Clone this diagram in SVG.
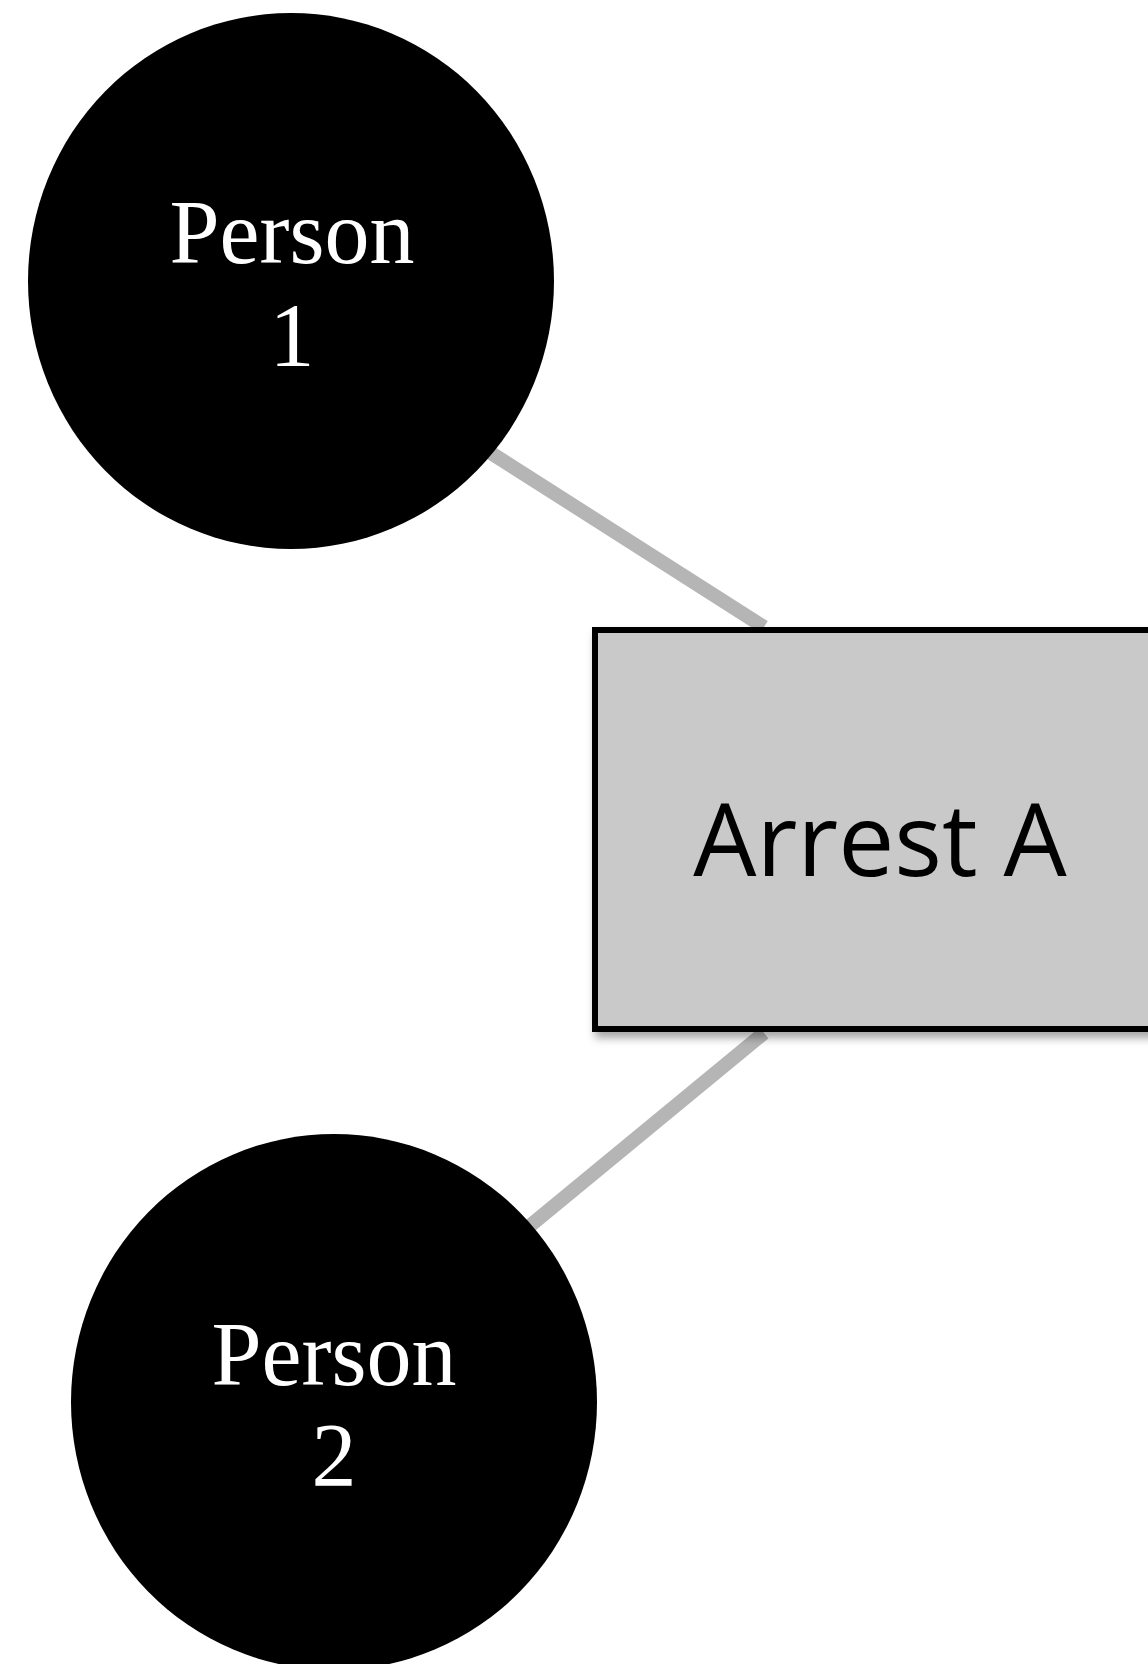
<svg xmlns="http://www.w3.org/2000/svg" width="1148" height="1664" viewBox="0 0 1148 1664">
<style>
.edge{stroke:#b5b5b5;stroke-width:14;fill:none}
.person{fill:#000}
.ptext{font-family:"Liberation Serif","Times New Roman",serif;font-size:90px;fill:#fff;text-anchor:middle}
.event{fill:#c9c9c9;stroke:#000;stroke-width:6}
.etext{font-family:"Open Sans","Liberation Sans",sans-serif;font-size:100px;fill:#000;text-anchor:middle}
</style>
<defs>
<filter id="sh" x="-10%" y="-10%" width="130%" height="130%">
<feDropShadow dx="3" dy="6" stdDeviation="4" flood-color="#000" flood-opacity="0.35"/>
</filter>
</defs>
<rect width="1148" height="1664" fill="#fff"/>
<g id="connectors">
<line class="edge" x1="480" y1="446" x2="764" y2="627"/>
<line class="edge" x1="764" y1="1033" x2="520" y2="1234"/>
</g>
<g id="person1">
<ellipse class="person" cx="291" cy="281" rx="263" ry="268"/>
<text class="ptext" x="292" y="263">Person</text>
<text class="ptext" x="292" y="366">1</text>
</g>
<g id="person2">
<ellipse class="person" cx="334" cy="1402" rx="263" ry="268"/>
<text class="ptext" x="334" y="1385">Person</text>
<text class="ptext" x="334" y="1486">2</text>
</g>
<g id="arrestA">
<rect class="event" x="595" y="630" width="600" height="399" filter="url(#sh)"/>
<text class="etext" x="880" y="876">Arrest A</text>
</g>
</svg>
